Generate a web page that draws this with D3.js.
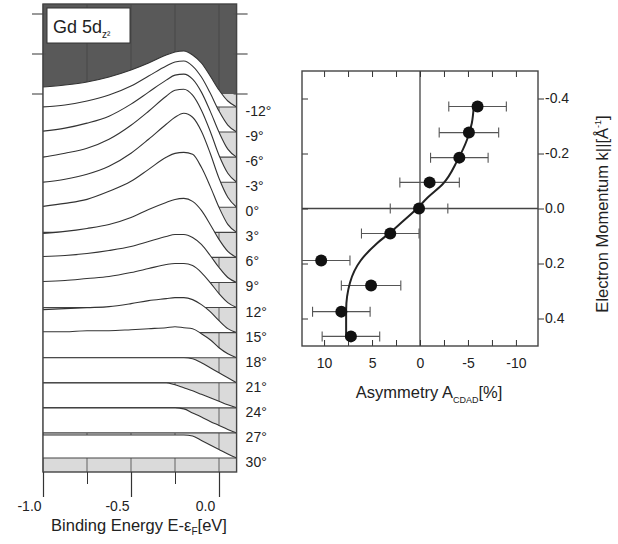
<!DOCTYPE html>
<html>
<head>
<meta charset="utf-8">
<script src="https://cdn.jsdelivr.net/npm/d3@7"></script>
<style>
  body { margin: 0; background: #fff; }
  svg { font-family: "Liberation Sans", Arial, sans-serif; }
  .axis text { font-size: 14px; fill: #222; }
  .axis line { stroke: #333; }
</style>
</head>
<body>
<div id="chart-area"></div>
<script>
// SVG Size
var width = 618,
    height = 544;

// Left panel: photoemission spectra, one per emission angle
var energies = [-1.0, -0.875, -0.75, -0.625, -0.5, -0.4, -0.3, -0.25, -0.2, -0.15, -0.1, -0.05, 0.0, 0.05, 0.1];
var angles = ["-12°", "-9°", "-6°", "-3°", "0°", "3°", "6°", "9°", "12°", "15°", "18°", "21°", "24°", "27°", "30°"];
var spectra = [
  [2.0, 2.2, 2.5, 3.0, 3.7, 4.4, 5.2, 5.5, 5.6, 5.2, 4.4, 3.1, 1.7, 0.6, 0],
  [2.5, 2.7, 3.1, 3.7, 4.6, 5.6, 6.6, 7.0, 7.1, 6.6, 5.5, 3.9, 2.1, 0.7, 0],
  [2.6, 2.9, 3.4, 4.1, 5.3, 6.5, 7.7, 8.2, 8.3, 7.8, 6.5, 4.6, 2.5, 0.8, 0],
  [2.5, 2.9, 3.4, 4.3, 5.7, 7.1, 8.6, 9.2, 9.3, 8.7, 7.2, 5.1, 2.7, 0.9, 0],
  [2.5, 2.8, 3.3, 4.1, 5.4, 6.8, 8.3, 9.0, 9.4, 9.0, 7.6, 5.4, 2.9, 1.0, 0],
  [2.6, 2.9, 3.3, 4.1, 5.1, 6.3, 7.5, 7.9, 8.0, 7.8, 6.5, 4.6, 2.5, 0.8, 0],
  [2.4, 2.6, 2.9, 3.3, 4.0, 4.8, 5.5, 5.8, 5.9, 5.6, 4.7, 3.3, 1.8, 0.6, 0],
  [2.6, 2.7, 2.9, 3.2, 3.6, 4.1, 4.6, 4.8, 4.8, 4.5, 3.8, 2.7, 1.5, 0.5, 0],
  [2.6, 2.7, 2.9, 3.1, 3.5, 3.9, 4.3, 4.4, 4.4, 4.2, 3.5, 2.5, 1.4, 0.5, 0],
  [2.3, 2.4, 2.5, 2.6, 2.9, 3.2, 3.4, 3.5, 3.5, 3.3, 2.8, 2.1, 1.2, 0.4, 0],
  [2.6, 2.6, 2.7, 2.7, 2.8, 2.9, 3.0, 3.1, 3.0, 2.9, 2.4, 1.8, 1.0, 0.4, 0],
  [2.5, 2.5, 2.5, 2.5, 2.5, 2.5, 2.5, 2.5, 2.5, 2.4, 2.0, 1.5, 1.0, 0.5, 0],
  [2.5, 2.5, 2.5, 2.5, 2.5, 2.5, 2.5, 2.3, 2.0, 1.7, 1.35, 1.0, 0.65, 0.3, 0],
  [2.5, 2.5, 2.5, 2.5, 2.5, 2.5, 2.5, 2.5, 2.4, 2.0, 1.6, 1.15, 0.75, 0.35, 0],
  [2.3, 2.3, 2.3, 2.3, 2.3, 2.3, 2.3, 2.3, 2.3, 2.2, 1.75, 1.3, 0.85, 0.4, 0]
];
var stackTop = -1.3;     // zero level of the first spectrum
var stackStep = 2.507;   // vertical offset between spectra
var energyMajor = [-1.0, -0.5, 0.0];
var energyMinor = [-0.75, -0.25];
var intensityTicks = [0, 4, 8];

// Right panel: asymmetry vs electron momentum
var momentum  = [-0.371, -0.276, -0.185, -0.095, 0.0, 0.091, 0.189, 0.28, 0.375, 0.465];
var asymmetry = [-6.0, -5.1, -4.1, -1.0, 0.1, 3.1, 10.3, 5.1, 8.2, 7.2];
var asymErr   = [3.0, 3.1, 3.0, 3.1, 3.0, 3.0, 3.0, 3.1, 3.0, 3.0];
var fitK = [-0.37, -0.31, -0.25, -0.175, -0.09, -0.04, 0.0, 0.05, 0.09, 0.127, 0.19, 0.27, 0.37, 0.47];
var fitA = [-5.6, -5.4, -4.9, -3.9, -2.4, -0.8, 0.3, 1.9, 3.2, 4.5, 6.2, 7.3, 7.7, 7.7];
var asymLabels = [10, 5, 0, -5, -10];
var asymMinor = [10, 7.5, 5, 2.5, 0, -2.5, -5, -7.5, -10];
var kTicks = [-0.4, -0.2, 0.0, 0.2, 0.4];

var svg = d3.select("#chart-area").append("svg")
  .attr("width", width)
  .attr("height", height);

// ---------- Left panel ----------
var xE = d3.scaleLinear().domain([-1.0, 0.1]).range([43, 236.6]);
var yI = d3.scaleLinear().domain([-37.8, 9.0]).range([472, 4]);

var left = svg.append("g");

// backgrounds: dark above intensity 0, light grey below
left.append("rect")
  .attr("x", xE(-1.0)).attr("y", yI(9.0))
  .attr("width", xE(0.1) - xE(-1.0)).attr("height", yI(0) - yI(9.0))
  .attr("fill", "#595959");
left.append("rect")
  .attr("x", xE(-1.0)).attr("y", yI(0))
  .attr("width", xE(0.1) - xE(-1.0)).attr("height", yI(-37.8) - yI(0))
  .attr("fill", "#dadada");

// vertical grid lines on the background
left.selectAll(".grid")
  .data(energyMajor.concat(energyMinor))
  .enter().append("line")
  .attr("x1", function(d){ return xE(d); })
  .attr("x2", function(d){ return xE(d); })
  .attr("y1", yI(9.0)).attr("y2", yI(-37.8))
  .attr("stroke", "#444").attr("stroke-width", 0.8);

// intensity ticks, crossing both sides of the frame
intensityTicks.forEach(function(t){
  left.append("line")
    .attr("x1", xE(-1.0) - 11).attr("x2", xE(-1.0) + 3)
    .attr("y1", yI(t)).attr("y2", yI(t))
    .attr("stroke", "#555").attr("stroke-width", 1.2);
  left.append("line")
    .attr("x1", xE(0.1) - 3).attr("x2", xE(0.1) + 11)
    .attr("y1", yI(t)).attr("y2", yI(t))
    .attr("stroke", "#555").attr("stroke-width", 1.2);
});

// spectra, drawn top to bottom so each hides the one above
var rows = spectra.map(function(s, i){
  var base = stackTop - stackStep * i;
  return energies.map(function(e, j){ return { e: e, v: base + s[j], base: base }; });
});

var area = d3.area()
  .x(function(d){ return xE(d.e); })
  .y0(function(d){ return yI(d.base); })
  .y1(function(d){ return yI(d.v); })
  .curve(d3.curveMonotoneX);
var line = d3.line()
  .x(function(d){ return xE(d.e); })
  .y(function(d){ return yI(d.v); })
  .curve(d3.curveMonotoneX);

rows.forEach(function(r){
  var g = left.append("g");
  g.append("path").datum(r).attr("d", area).attr("fill", "#fff");
  g.append("path").datum(r).attr("d", line)
    .attr("fill", "none").attr("stroke", "#333").attr("stroke-width", 1.1);
  g.append("line")
    .attr("x1", xE(-1.0)).attr("x2", xE(0.1))
    .attr("y1", yI(r[0].base)).attr("y2", yI(r[0].base))
    .attr("stroke", "#444").attr("stroke-width", 1.1);
});

// angle labels
left.selectAll(".angle")
  .data(angles)
  .enter().append("text")
  .attr("x", xE(0.1) + 9)
  .attr("y", function(d, i){ return yI(stackTop - stackStep * i) + 9; })
  .attr("font-size", 14)
  .attr("fill", "#222")
  .text(function(d){ return d; });

// frame
left.append("rect")
  .attr("x", xE(-1.0)).attr("y", yI(9.0))
  .attr("width", xE(0.1) - xE(-1.0)).attr("height", yI(-37.8) - yI(9.0))
  .attr("fill", "none").attr("stroke", "#444").attr("stroke-width", 1.4);

// title box
left.append("rect")
  .attr("x", 47).attr("y", 8).attr("width", 83).attr("height", 35)
  .attr("fill", "#fff").attr("stroke", "#333").attr("stroke-width", 1);
var title = left.append("text")
  .attr("x", 53).attr("y", 33)
  .attr("font-size", 18).attr("fill", "#222")
  .text("Gd 5d");
title.append("tspan").attr("font-size", 10).attr("dy", 5).text("z²");

// energy axis
var xAxisMinor = d3.axisBottom(xE).tickValues(energyMinor).tickSize(12).tickFormat("");
var xAxisMajor = d3.axisBottom(xE).tickValues(energyMajor).tickSize(25).tickPadding(4)
  .tickFormat(function(d){ return d.toFixed(1); });
left.append("g").attr("class", "axis")
  .attr("transform", "translate(0," + yI(-37.8) + ")")
  .call(xAxisMinor)
  .call(function(g){ g.select(".domain").remove(); });
left.append("g").attr("class", "axis")
  .attr("transform", "translate(0," + yI(-37.8) + ")")
  .call(xAxisMajor)
  .call(function(g){
    g.select(".domain").remove();
    g.selectAll("line").attr("stroke-width", 1.2);
    g.selectAll("text").attr("dx", -14).attr("font-size", 15);
  });

var xTitle = left.append("text")
  .attr("x", 139).attr("y", 531)
  .attr("text-anchor", "middle")
  .attr("font-size", 16.5).attr("fill", "#222")
  .text("Binding Energy E-ε");
xTitle.append("tspan").attr("font-size", 10).attr("dy", 4).text("F");
xTitle.append("tspan").attr("dy", -4).text("[eV]");

// ---------- Right panel ----------
var xA = d3.scaleLinear().domain([12.3, -12.3]).range([302, 538]);
var yK = d3.scaleLinear().domain([-0.5, 0.5]).range([71, 346]);

var right = svg.append("g");

right.append("clipPath").attr("id", "clipR")
  .append("rect")
  .attr("x", xA(12.3)).attr("y", yK(-0.5))
  .attr("width", xA(-12.3) - xA(12.3)).attr("height", yK(0.5) - yK(-0.5));

// zero lines
right.append("line")
  .attr("x1", xA(0)).attr("x2", xA(0)).attr("y1", yK(-0.5)).attr("y2", yK(0.5))
  .attr("stroke", "#444").attr("stroke-width", 1.3);
right.append("line")
  .attr("x1", xA(12.3)).attr("x2", xA(-12.3)).attr("y1", yK(0)).attr("y2", yK(0))
  .attr("stroke", "#444").attr("stroke-width", 1.3);

// axes
right.append("g").attr("class", "axis")
  .attr("transform", "translate(0," + yK(0.5) + ")")
  .call(d3.axisBottom(xA).tickValues(asymMinor).tickSize(-6).tickFormat(""))
  .call(function(g){ g.select(".domain").remove(); });
right.append("g").attr("class", "axis")
  .attr("transform", "translate(0," + yK(0.5) + ")")
  .call(d3.axisBottom(xA).tickValues(asymLabels).tickSize(0).tickPadding(12)
    .tickFormat(function(d){ return String(d); }))
  .call(function(g){ g.select(".domain").remove(); g.selectAll("text").attr("font-size", 15); });
right.append("g").attr("class", "axis")
  .attr("transform", "translate(0," + yK(-0.5) + ")")
  .call(d3.axisTop(xA).tickValues(asymMinor).tickSize(-6).tickFormat(""))
  .call(function(g){ g.select(".domain").remove(); });
right.append("g").attr("class", "axis")
  .attr("transform", "translate(" + xA(12.3) + ",0)")
  .call(d3.axisLeft(yK).tickValues(kTicks).tickSize(-6).tickFormat(""))
  .call(function(g){ g.select(".domain").remove(); });
right.append("g").attr("class", "axis")
  .attr("transform", "translate(" + xA(-12.3) + ",0)")
  .call(d3.axisRight(yK).tickValues(kTicks).tickSize(6).tickPadding(1)
    .tickFormat(function(d){ return d.toFixed(1); }))
  .call(function(g){ g.select(".domain").remove(); g.selectAll("text").attr("font-size", 14); });

// frame
right.append("rect")
  .attr("x", xA(12.3)).attr("y", yK(-0.5))
  .attr("width", xA(-12.3) - xA(12.3)).attr("height", yK(0.5) - yK(-0.5))
  .attr("fill", "none").attr("stroke", "#444").attr("stroke-width", 1.4);

// error bars
var pts = momentum.map(function(k, i){ return { k: k, a: asymmetry[i], err: asymErr[i] }; });
var eb = right.append("g").attr("clip-path", "url(#clipR)")
  .selectAll(".eb").data(pts).enter().append("g");
eb.append("line")
  .attr("x1", function(d){ return xA(d.a + d.err); })
  .attr("x2", function(d){ return xA(d.a - d.err); })
  .attr("y1", function(d){ return yK(d.k); })
  .attr("y2", function(d){ return yK(d.k); })
  .attr("stroke", "#555").attr("stroke-width", 1.1);
[1, -1].forEach(function(s){
  eb.append("line")
    .attr("x1", function(d){ return xA(d.a + s * d.err); })
    .attr("x2", function(d){ return xA(d.a + s * d.err); })
    .attr("y1", function(d){ return yK(d.k) - 5; })
    .attr("y2", function(d){ return yK(d.k) + 5; })
    .attr("stroke", "#555").attr("stroke-width", 1.1);
});

// fitted curve
var fit = fitK.map(function(k, i){ return { k: k, a: fitA[i] }; });
right.append("path").datum(fit)
  .attr("d", d3.line()
    .x(function(d){ return xA(d.a); })
    .y(function(d){ return yK(d.k); })
    .curve(d3.curveMonotoneY))
  .attr("fill", "none").attr("stroke", "#222").attr("stroke-width", 2);

// data points
right.selectAll(".dot").data(pts).enter().append("circle")
  .attr("cx", function(d){ return xA(d.a); })
  .attr("cy", function(d){ return yK(d.k); })
  .attr("r", 6)
  .attr("fill", "#111");

// axis titles
var aTitle = right.append("text")
  .attr("x", 429).attr("y", 398)
  .attr("text-anchor", "middle")
  .attr("font-size", 16.5).attr("fill", "#222")
  .text("Asymmetry A");
aTitle.append("tspan").attr("font-size", 9).attr("dy", 5).text("CDAD");
aTitle.append("tspan").attr("dy", -5).text("[%]");

var kTitle = right.append("text")
  .attr("transform", "translate(608,214) rotate(-90)")
  .attr("text-anchor", "middle")
  .attr("font-size", 16.5).attr("fill", "#222")
  .text("Electron Momentum    k||[Å");
kTitle.append("tspan").attr("font-size", 9).attr("dy", -7).text("-1");
kTitle.append("tspan").attr("dy", 7).text("]");
</script>
</body>
</html>
